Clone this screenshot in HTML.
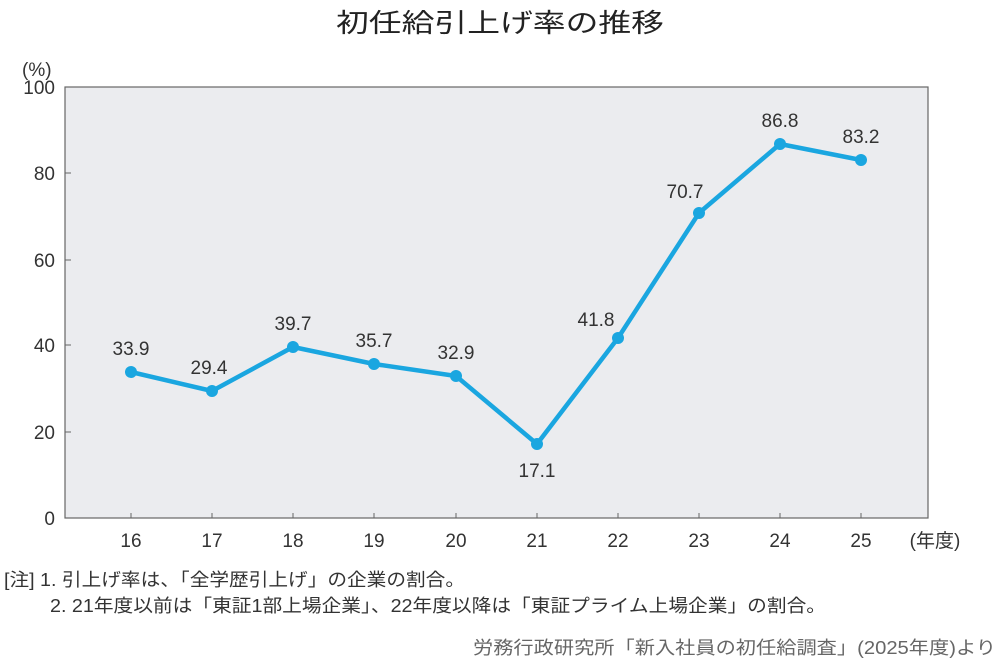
<!DOCTYPE html>
<html><head><meta charset="utf-8"><style>
body{margin:0;background:#fff;}
svg{display:block;font-family:"Liberation Sans","Noto Sans CJK JP",sans-serif;}
</style></head><body>
<svg width="1000" height="660" viewBox="0 0 1000 660">
<text x="500" y="32" font-size="26" text-anchor="middle" fill="#222" textLength="328" lengthAdjust="spacingAndGlyphs">初任給引上げ率の推移</text>
<text x="22" y="76" font-size="19" fill="#333">(%)</text>
<rect x="65" y="87" width="863" height="431" fill="#ebecef" stroke="#666" stroke-width="1.2"/>
<g font-size="19" fill="#333" text-anchor="end">
<text x="55" y="94">100</text><text x="55" y="180">80</text><text x="55" y="267">60</text><text x="55" y="352">40</text><text x="55" y="439">20</text><text x="55" y="525">0</text>
</g>
<g stroke="#666" stroke-width="1">
<line x1="65" y1="173" x2="71" y2="173"/><line x1="65" y1="260" x2="71" y2="260"/><line x1="65" y1="345" x2="71" y2="345"/><line x1="65" y1="432" x2="71" y2="432"/>
<line x1="131" y1="518" x2="131" y2="513"/><line x1="212" y1="518" x2="212" y2="513"/><line x1="293" y1="518" x2="293" y2="513"/><line x1="374" y1="518" x2="374" y2="513"/><line x1="456" y1="518" x2="456" y2="513"/><line x1="537" y1="518" x2="537" y2="513"/><line x1="618" y1="518" x2="618" y2="513"/><line x1="699" y1="518" x2="699" y2="513"/><line x1="780" y1="518" x2="780" y2="513"/><line x1="861" y1="518" x2="861" y2="513"/>
</g>
<g font-size="19" fill="#333" text-anchor="middle">
<text x="131" y="547">16</text><text x="212" y="547">17</text><text x="293" y="547">18</text><text x="374" y="547">19</text><text x="456" y="547">20</text><text x="537" y="547">21</text><text x="618" y="547">22</text><text x="699" y="547">23</text><text x="780" y="547">24</text><text x="861" y="547">25</text>
<text x="935" y="547">(年度)</text>
</g>
<polyline fill="none" stroke="#1aa6e0" stroke-width="4.5" stroke-linejoin="round" points="131,372 212,391 293,347 374,364 456,376 537,444 618,338 699,213 780,144 861,160"/>
<g fill="#1aa6e0">
<circle cx="131" cy="372" r="6"/><circle cx="212" cy="391" r="6"/><circle cx="293" cy="347" r="6"/><circle cx="374" cy="364" r="6"/><circle cx="456" cy="376" r="6"/><circle cx="537" cy="444" r="6"/><circle cx="618" cy="338" r="6"/><circle cx="699" cy="213" r="6"/><circle cx="780" cy="144" r="6"/><circle cx="861" cy="160" r="6"/>
</g>
<g font-size="19" fill="#333" text-anchor="middle">
<text x="131" y="355">33.9</text><text x="209" y="374">29.4</text><text x="293" y="330">39.7</text><text x="374" y="347">35.7</text><text x="456" y="359">32.9</text><text x="537" y="477">17.1</text><text x="596" y="326">41.8</text><text x="685" y="198">70.7</text><text x="780" y="127">86.8</text><text x="861" y="143">83.2</text>
</g>
<g font-size="18" fill="#333">
<text x="4" y="586" textLength="461" lengthAdjust="spacingAndGlyphs">[注] 1. 引上げ率は、「全学歴引上げ」の企業の割合。</text>
<text x="50" y="612" textLength="776" lengthAdjust="spacingAndGlyphs">2. 21年度以前は「東証1部上場企業」、22年度以降は「東証プライム上場企業」の割合。</text>
<text x="473" y="654" fill="#666" textLength="523" lengthAdjust="spacingAndGlyphs">労務行政研究所「新入社員の初任給調査」(2025年度)より</text>
</g>
</svg>
</body></html>
